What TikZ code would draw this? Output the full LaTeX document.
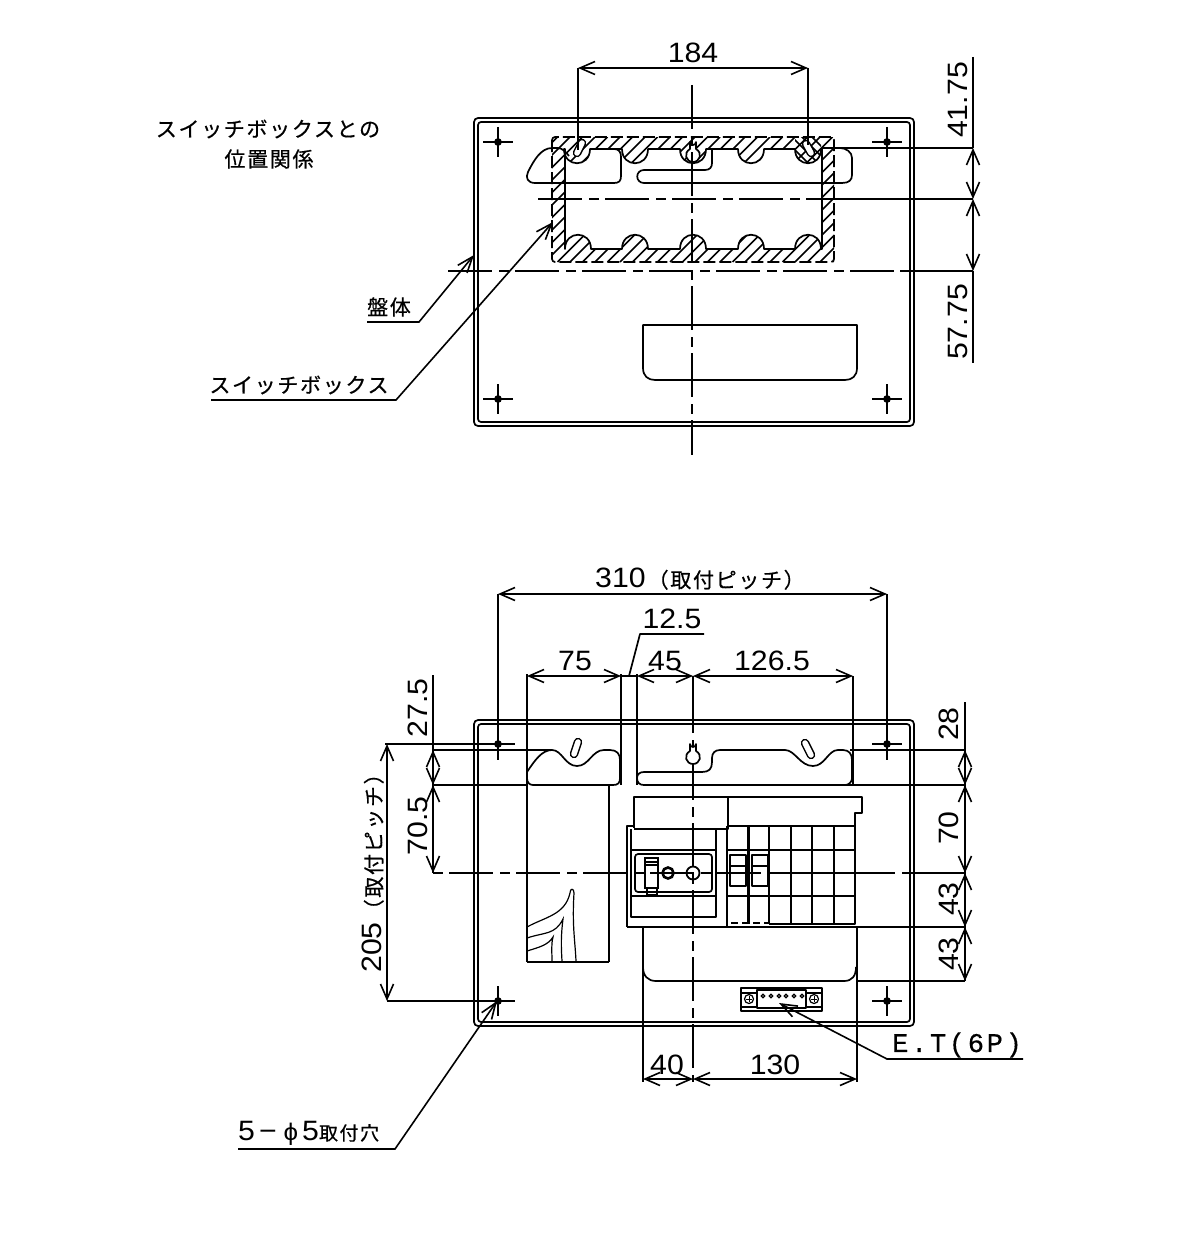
\documentclass[tikz,border=0pt]{standalone}
\usepackage{fontspec}
\setmainfont[FakeStretch=1.08]{Liberation Sans}
\newfontfamily\cjkf[LetterSpace=8,FakeBold=0.5]{Noto Sans CJK JP}
\newfontfamily\etf[LetterSpace=10,FakeBold=0.4]{Liberation Mono}
\usetikzlibrary{arrows.meta}
\newcommand{\numt}{\fontsize{28}{28}\selectfont}
\newcommand{\jp}{\fontsize{21}{22}\selectfont\cjkf}
\newcommand{\hole}[2]{%
  \draw[ln] (#1-15,#2) -- (#1+15,#2) (#1,#2-15) -- (#1,#2+15);
  \draw[line width=2pt] (#1,#2) circle[radius=2.8];}
\newcommand{\panel}[2]{%
  \draw[ln,rounded corners=4pt] (474,#1) rectangle (914,#2);
  \draw[ln,rounded corners=3pt] (478,#1+4) rectangle (910,#2-4);}
\newcommand{\bd}[1]{-- (#1-13,149) .. controls (#1-13,168) and (#1+13,168) .. (#1+13,149)}
\newcommand{\bu}[1]{-- (#1+13,249) .. controls (#1+13,230) and (#1-13,230) .. (#1-13,249)}
\newcommand{\slotm}[4]{%
  \draw[line width=8.5pt,line cap=round] (#1,#2) -- (#3,#4);
  \draw[white,line width=5.5pt,line cap=round] (#1,#2) -- (#3,#4);}
\newcommand{\keyh}[2]{%
  \draw[ln,fill=white] (#1-3,#2+9) -- (#1-3,#2+2) arc[start angle=180,end angle=360,x radius=3,y radius=-3] -- (#1+3,#2+9)
    .. controls (#1+10,#2+13) and (#1+7,#2+22) .. (#1,#2+22)
    .. controls (#1-7,#2+22) and (#1-10,#2+13) .. (#1-3,#2+9) -- cycle;}
\tikzset{
  ln/.style={line width=1.7pt,line join=round},
  thinl/.style={line width=1.2pt},
  heavy/.style={line width=2.2pt},
  cl/.style={line width=1.7pt,dash pattern=on 44pt off 7pt on 10pt off 6pt},
  dim/.style={line width=1.6pt,{Straight Barb[length=15pt,width=13pt,line width=1.6pt]}-{Straight Barb[length=15pt,width=13pt,line width=1.6pt]}},
  lead/.style={line width=1.6pt,-{Straight Barb[length=16pt,width=12pt,line width=1.6pt]}},
  txt/.style={inner sep=0pt,font=\numt},
  jtxt/.style={inner sep=0pt,font=\jp},
}
\begin{document}
\begin{tikzpicture}[x=1pt,y=-1pt]
\useasboundingbox[fill=white] (0,0) rectangle (1192,1244);
% ===== top view =====
\panel{118}{426}
\foreach \hx/\hy in {498/142,887/142,498/399,887/399}{\hole{\hx}{\hy}}
% hatched frame
\begin{scope}
\clip (552,137) rectangle (834,262);
\foreach \i in {420,432.5,...,840}{\draw[ln] (\i,262) -- (\i+125,137);}
\end{scope}
\draw[ln,dash pattern=on 12pt off 4pt,rounded corners=3pt] (552,137) rectangle (834,262);
\def\innerfr{(565,160) -- (565,149) \bd{577} \bd{635} \bd{693} \bd{751} \bd{808} -- (822,149) -- (822,249) \bu{808} \bu{751} \bu{693} \bu{635} \bu{578} -- (565,249) -- cycle}
\fill[white] \innerfr;
\begin{scope}
\clip (795,149) .. controls (795,168) and (821,168) .. (821,149) -- (821,137) -- (795,137) -- cycle;
\foreach \i in {770,780,...,830}{\draw[ln] (\i,135) -- (\i+30,165);}
\end{scope}
\draw[ln] \innerfr;
% knockouts seen through
\draw[ln] (590,149) -- (614,149) .. controls (619,149) and (621,152) .. (621,157) -- (621,176) .. controls (621,181) and (619,183) .. (614,183)
  -- (535,183) .. controls (528,183) and (525,178) .. (528,172) .. controls (534,160) and (541,148) .. (552,148) -- (558,148) .. controls (562,148) and (566,152) .. (569,156);
\draw[ln] (712,150) -- (712,163) .. controls (712,167) and (710,170) .. (705,170) -- (644,170) .. controls (635,170) and (635,183) .. (644,183)
  -- (842,183) .. controls (849,183) and (852,180) .. (852,175) -- (852,158) .. controls (852,152) and (846,148) .. (840,148) -- (834,148);
\slotm{582}{143}{577}{153}
\slotm{806}{144}{811}{153}
\keyh{693}{140}
% centre lines and dims
\draw[cl] (692,85) -- (692,455);
\draw[cl] (538,199) -- (834,199);
\draw[ln] (834,199) -- (973,199);
\draw[cl] (448,271) -- (900,271);
\draw[ln] (900,271) -- (973,271);
\draw[ln] (578,68) -- (578,150);
\draw[ln] (808,68) -- (808,145);
\draw[ln] (822,148) -- (973,148);
\draw[ln] (973,57) -- (973,148);
\draw[ln] (973,271) -- (973,363);
\draw[dim] (578,68) -- (808,68);
\draw[dim] (973,148) -- (973,199);
\draw[dim] (973,199) -- (973,271);
\node[txt] (d184) at (693,53) {184};
\node[txt,rotate=90] (d4175) at (958,100) {41.75};
\node[txt,rotate=90] (d5775) at (958,322) {57.75};
% drawer recess
\draw[ln] (643,325) -- (857,325) -- (857,368) .. controls (857,376) and (852,380) .. (845,380) -- (655,380) .. controls (648,380) and (643,376) .. (643,368) -- cycle;
% labels top
\node[jtxt] (tpos1) at (268,129) {スイッチボックスとの};
\node[jtxt] (tpos2) at (269,159) {位置関係};
\node[jtxt] (tban) at (389,307) {盤体};
\node[jtxt] (tsw) at (299,385) {スイッチボックス};
\draw[lead] (367,322) -- (419,322) -- (474,255);
\draw[lead] (211,400) -- (396,400) -- (553,222);
% ===== bottom view =====
\panel{720}{1026}
\foreach \hx/\hy in {498/744,887/744,498/1001,887/1001}{\hole{\hx}{\hy}}
% upper knockouts
\draw[ln] (527,772) .. controls (535,760) and (542,750) .. (552,750) .. controls (562,750) and (565,766) .. (577,766) .. controls (589,766) and (592,750) .. (604,750)
  -- (610,750) .. controls (617,750) and (620,754) .. (620,760) -- (620,778) .. controls (620,783) and (618,785) .. (613,785) -- (533,785) .. controls (529,785) and (527,782) .. (527,778) -- cycle;
\slotm{578}{742}{574}{754}
\draw[ln] (637,778) .. controls (637,774) and (640,772) .. (644,772) -- (702,772) .. controls (709,772) and (712,769) .. (712,762) -- (712,758) .. controls (712,753) and (715,750) .. (720,750)
  -- (785,750) .. controls (795,750) and (800,766) .. (813,766) .. controls (825,766) and (828,750) .. (838,750) -- (843,750) .. controls (849,750) and (852,754) .. (852,760) -- (852,778) .. controls (852,782) and (849,785) .. (845,785)
  -- (644,785) .. controls (640,785) and (637,783) .. (637,778) -- cycle;
\slotm{805}{743}{811}{755}
% extension lines
\draw[ln] (527,674) -- (527,962);
\draw[heavy] (527,962) -- (609,962);
\draw[thinl] (609,785) -- (609,962);
\draw[ln] (621,674) -- (621,785);
\draw[ln] (637,674) -- (637,785);
\draw[ln] (853,676) -- (853,785);
\draw[ln] (498,594) -- (498,760);
\draw[ln] (887,594) -- (887,760);
% hidden curves
\draw[thinl] (527,927) .. controls (545,917) and (565,915) .. (570,893) .. controls (570,888) and (574,888) .. (574,893) .. controls (572,925) and (575,940) .. (576,961);
\draw[thinl] (527,938) .. controls (545,932) and (555,935) .. (563,919) .. controls (561,935) and (561,945) .. (562,961);
\draw[thinl] (527,951) .. controls (540,947) and (548,945) .. (553,937) .. controls (551,945) and (552,952) .. (552,961);
% breaker
\draw[ln] (634,828) -- (634,797) -- (728,797) -- (728,829) -- (634,829);
\draw[ln] (728,797) -- (862,797) -- (862,813) -- (855,813) -- (855,826);
\draw[ln] (634,826) -- (627,826) -- (627,927);
\draw[ln] (631,829) -- (631,917) -- (716,917) -- (716,829);
\draw[thinl] (631,850) -- (716,850) (631,896) -- (716,896);
\draw[ln,rounded corners=3pt] (635,854) rectangle (712,892);
\draw[heavy] (645,858) rectangle (658,888);
\draw[thinl] (647,888) rectangle (657,895);
\draw[thinl] (646,862) -- (657,862) (646,865) -- (657,865);
\draw[line width=2.6pt] (668,873) circle[radius=5.5];
\draw[line width=1.8pt] (693,873) circle[radius=6.5];
\draw[ln] (727,826) -- (855,826) -- (855,924) -- (769,924);
\draw[ln] (727,826) -- (727,927);
\foreach \vx in {748.5,769,791,812,834}{\draw[heavy] (\vx,826) -- (\vx,924);}
\draw[thinl] (727,850) -- (855,850) (769,873) -- (855,873) (727,896) -- (855,896);
\draw[ln] (730,855) rectangle (746,886);
\draw[ln] (752,855) rectangle (768,886);
\draw[thinl] (730,866) -- (746,866) (752,866) -- (768,866);
\draw[thinl,dash pattern=on 7pt off 4pt] (731,923) -- (769,923);
% lower cover
\draw[ln] (627,927) -- (965,927);
\draw[ln] (643,927) -- (643,1082);
\draw[ln] (857,927) -- (857,1082);
\draw[ln] (643,967) .. controls (643,976) and (648,981) .. (656,981) -- (844,981) .. controls (852,981) and (856,976) .. (856,967);
\draw[ln] (856,981) -- (965,981);
% terminal
\draw[ln] (741,988) rectangle (822,1011);
\draw[ln,fill=white] (757,990) rectangle (806,1008);
\foreach \tx in {763,771,779,786,794,802}{\draw[thinl] (\tx,996) circle[radius=1.8];}
\foreach \sx in {749,814}{\draw[thinl] (\sx,999) circle[radius=4.5]; \draw[line width=.8pt] (\sx-3,999) -- (\sx+3,999) (\sx,996) -- (\sx,1002);}
\draw[thinl] (741,993) -- (757,993) (741,1007) -- (757,1007) (806,993) -- (822,993) (806,1007) -- (822,1007);
% centre lines
\draw[ln] (693,676) -- (693,700);
\draw[cl,dash phase=54pt] (693,676) -- (693,1082);
\keyh{693}{742}
\draw[cl,dash phase=51pt] (433,873) -- (905,873);
\draw[ln] (905,873) -- (965,873);
% dim ext
\draw[ln] (385,744) -- (515,744);
\draw[ln] (387,1001) -- (515,1001);
\draw[ln] (433,675) -- (433,873);
\draw[ln] (433,750) -- (552,750);
\draw[heavy] (433,785) -- (527,785);
\draw[ln] (850,750) -- (965,750);
\draw[heavy] (845,785) -- (965,785);
\draw[ln] (965,702) -- (965,981);
% dims
\draw[dim] (498,594) -- (887,594);
\draw[dim] (527,676) -- (621,676);
\draw[dim] (637,676) -- (693,676);
\draw[dim] (693,676) -- (853,676);
\draw[heavy] (621,676) -- (637,676);
\draw[ln] (629,676) -- (640,634) -- (704,634);
\draw[dim] (387,744) -- (387,1001);
\draw[dim] (433,750) -- (433,785);
\draw[dim] (433,785) -- (433,873);
\draw[dim] (965,750) -- (965,785);
\draw[dim] (965,785) -- (965,873);
\draw[dim] (965,873) -- (965,927);
\draw[dim] (965,927) -- (965,981);
\draw[dim] (643,1079) -- (693,1079);
\draw[dim] (693,1079) -- (857,1079);
% dim text
\node[txt,anchor=west] (d310) at (595,579) {310\hspace{2pt}{\jp（取付ピッチ）}};
\node[txt] (d125) at (672,619) {12.5};
\node[txt] (d75) at (575,661) {75};
\node[txt] (d45) at (665,661) {45};
\node[txt] (d1265) at (772,661) {126.5};
\node[txt,rotate=90] (d275) at (418,708) {27.5};
\node[txt,rotate=90] (d705) at (418,826) {70.5};
\node[txt,rotate=90,anchor=west] (d205) at (373,973) {205\hspace{2pt}{\jp（取付ピッチ）}};
\node[txt,rotate=90] (d28) at (949,724) {28};
\node[txt,rotate=90] (d70) at (949,828) {70};
\node[txt,rotate=90] (d43a) at (949,899) {43};
\node[txt,rotate=90] (d43b) at (949,954) {43};
\node[txt] (d40) at (667,1065) {40};
\node[txt] (d130) at (775,1065) {130};
\node[inner sep=0pt,anchor=west,font=\fontsize{27}{27}\selectfont\etf] (tet) at (892,1045) {E.T(6P)};
\draw[lead] (1023,1059) -- (887,1059) -- (779,1003);
\node[inner sep=0pt,anchor=west] (thole) at (238,1133) {{\fontsize{28}{28}\selectfont 5\hspace{4pt}−\hspace{7pt}}{\fontsize{24}{24}\selectfont ϕ}{\fontsize{28}{28}\selectfont \hspace{4pt}5}{\fontsize{19}{22}\selectfont\cjkf 取付穴}};
\draw[lead] (238,1149) -- (395,1149) -- (497,1001);
\end{tikzpicture}
\end{document}
